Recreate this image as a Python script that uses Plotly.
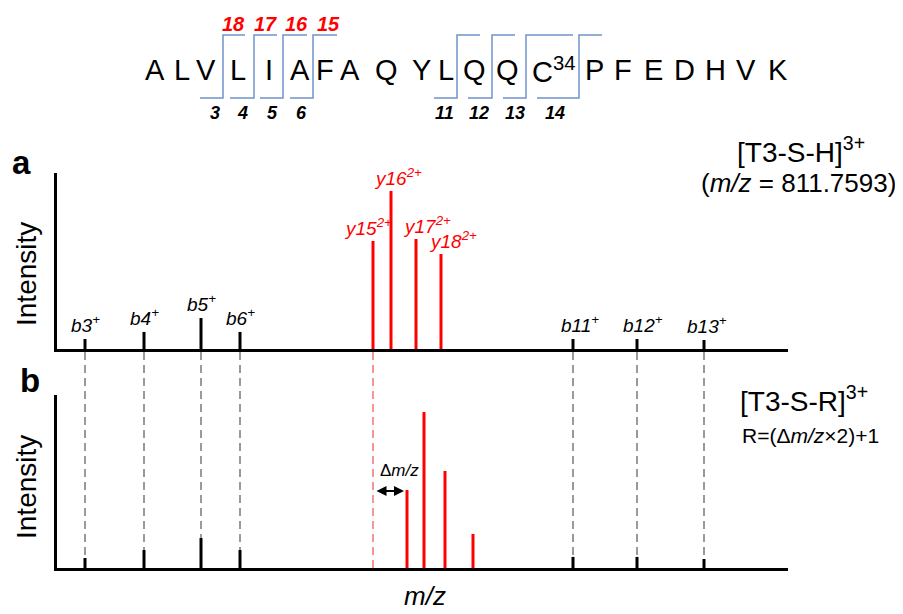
import plotly.graph_objects as go

# ---------------- data (arbitrary m/z units, relative intensity %) ----------------
b_labels = ["b3", "b4", "b5", "b6", "b11", "b12", "b13"]
b_mz = [85, 144, 201, 240, 573, 637, 704]
b_int_a = [5.7, 9.7, 17.6, 9.7, 5.7, 5.7, 5.1]
b_int_b = [5.8, 10.4, 17.3, 10.4, 6.4, 6.4, 5.2]

y_labels = ["y15", "y16", "y17", "y18"]
y_mz_a = [373, 391, 416, 441]
y_int_a = [61.4, 89.8, 62.5, 54.0]
y_mz_b = [407, 424, 445, 473]
y_int_b = [45.1, 90.2, 56.1, 19.7]

sequence = ["A", "L", "V", "L", "I", "A", "F", "A", "Q", "Y", "L",
            "Q", "Q", "C<sup>34</sup>", "P", "F", "E", "D", "H", "V", "K"]
y_cleave_labels = ["18", "17", "16", "15"]
b_cleave_labels = ["3", "4", "5", "6", "11", "12", "13", "14"]

# ---------------- layout helpers (window pixel -> paper) ----------------
W, H = 903, 614
OFF = 8                      # default page body margin
FW, FH = W - OFF, H - OFF    # figure size


def px(x):
    return (x - OFF) / FW


def py(y):
    return 1 - (y - OFF) / FH


X0, X1 = 57, 788
A_TOP, A_BASE = 173, 349
B_TOP, B_BASE = 395, 568

RED = "#FF0000"
BLUE = "#6F93CC"
FONT = "Liberation Sans, Arial, sans-serif"

fig = go.Figure()


def stick_trace(xs, ys, color, xa, ya):
    xx, yy = [], []
    for x, y in zip(xs, ys):
        xx += [x, x, None]
        yy += [0, y, None]
    return go.Scatter(x=xx, y=yy, mode="lines", line=dict(color=color, width=3),
                      xaxis=xa, yaxis=ya, hoverinfo="skip", showlegend=False)


fig.add_trace(stick_trace(b_mz, b_int_a, "black", "x", "y"))
fig.add_trace(stick_trace(y_mz_a, y_int_a, RED, "x", "y"))
fig.add_trace(stick_trace(b_mz, b_int_b, "black", "x2", "y2"))
fig.add_trace(stick_trace(y_mz_b, y_int_b, RED, "x2", "y2"))

axis_common = dict(showline=True, linecolor="black", linewidth=3, showgrid=False,
                   zeroline=False, showticklabels=False, ticks="")
fig.update_layout(
    width=FW, height=FH, margin=dict(l=0, r=0, t=0, b=0),
    paper_bgcolor="white", plot_bgcolor="rgba(0,0,0,0)",
    xaxis=dict(domain=[px(X0), px(X1)], range=[X0, X1], anchor="y", **axis_common),
    yaxis=dict(domain=[py(A_BASE), py(A_TOP)], range=[0, 100], anchor="x", **axis_common),
    xaxis2=dict(domain=[px(X0), px(X1)], range=[X0, X1], anchor="y2", **axis_common),
    yaxis2=dict(domain=[py(B_BASE), py(B_TOP)], range=[0, 100], anchor="x2", **axis_common),
)

shapes = []
# dashed connectors between panels
for x in b_mz:
    shapes.append(dict(type="line", xref="x", yref="paper", x0=x, x1=x, layer="below",
                       y0=py(A_BASE + 3), y1=py(B_BASE),
                       line=dict(color="#9A9A9A", width=2, dash="8px,5px")))
shapes.append(dict(type="line", xref="x", yref="paper", x0=y_mz_a[0], x1=y_mz_a[0],
                   layer="below", y0=py(A_BASE + 3), y1=py(B_BASE),
                   line=dict(color="#F79494", width=2, dash="8px,5px")))

# fragmentation brackets on the sequence
brackets = [(223, 200, 245), (254, 230, 277), (283, 260, 307), (313, 290, 337),
            (457, 434, 480), (492, 468, 515), (526, 503, 573), (579, 537, 602)]
BR_LOW, BR_HIGH = 98, 35
for v, bl, tr in brackets:
    path = (f"M {px(bl)} {py(BR_LOW)} L {px(v)} {py(BR_LOW)} "
            f"L {px(v)} {py(BR_HIGH)} L {px(tr)} {py(BR_HIGH)}")
    shapes.append(dict(type="path", xref="paper", yref="paper", path=path,
                       line=dict(color=BLUE, width=1.5)))
fig.update_layout(shapes=shapes)

ann = []


def paper_text(x, y, text, size, color="black", xanchor="center", yanchor="middle",
               angle=0):
    ann.append(dict(x=px(x), y=py(y), xref="paper", yref="paper", text=text,
                    showarrow=False, xanchor=xanchor, yanchor=yanchor, textangle=angle,
                    font=dict(family=FONT, size=size, color=color)))


# sequence letters
seq_x = [155, 182, 206, 238, 269, 300, 325, 350, 386, 421, 446,
         475, 508, 530, 594, 623, 653, 684, 715, 746, 778]
for s, x in zip(sequence, seq_x):
    paper_text(x, 70, s, 29, xanchor="left" if "sup" in s else "center")
# cleavage numbers
for t, x in zip(y_cleave_labels, [233, 265, 296, 328]):
    paper_text(x, 24, f"<b><i>{t}</i></b>", 20, color=RED)
for t, x in zip(b_cleave_labels, [215, 242, 272, 301, 444, 479, 515, 555]):
    paper_text(x, 113, f"<b><i>{t}</i></b>", 18)

# peak labels panel a
b_xshift = [0, 0, 0, 0, 7, 6, 3]
for lab, x, y, dx in zip(b_labels, b_mz, b_int_a, b_xshift):
    ann.append(dict(x=x, y=y, xref="x", yref="y", text=f"<i>{lab}<sup>+</sup></i>",
                    showarrow=False, xanchor="center", yanchor="bottom", xshift=dx,
                    yshift=1, font=dict(family=FONT, size=19, color="black")))
y_xshift = [-5, 7, 11, 12]
for lab, x, y, dx in zip(y_labels, y_mz_a, y_int_a, y_xshift):
    ann.append(dict(x=x, y=y, xref="x", yref="y", text=f"<i>{lab}<sup>2+</sup></i>",
                    showarrow=False, xanchor="center", yanchor="bottom", xshift=dx,
                    yshift=0, font=dict(family=FONT, size=19, color=RED)))

# delta m/z arrow in panel b
ann.append(dict(x=404, y=44.5, ax=375, ay=44.5, xref="x2", yref="y2",
                axref="x2", ayref="y2", text="", showarrow=True,
                arrowhead=2, startarrowhead=2, arrowside="end+start",
                arrowsize=1, arrowwidth=2, arrowcolor="black"))
paper_text(399, 470, "Δ<i>m/z</i>", 17)

# panel letters, axis titles
paper_text(21, 163, "<b>a</b>", 33)
paper_text(30, 380, "<b>b</b>", 33)
for yc in (274, 487):
    paper_text(26, yc, "Intensity", 28, angle=-90)
paper_text(425, 596, "<i>m/z</i>", 26)

# precursor descriptions
paper_text(735, 150, "[T3-S-H]<sup>3+</sup>", 28, xanchor="left")
paper_text(798, 183, "(<i>m/z</i> = 811.7593)", 26)
paper_text(738, 399, "[T3-S-R]<sup>3+</sup>", 28, xanchor="left")
paper_text(740, 435, "R=(Δ<i>m/z</i>×2)+1", 21, xanchor="left")

fig.update_layout(annotations=ann)
fig.write_html("out.html")
